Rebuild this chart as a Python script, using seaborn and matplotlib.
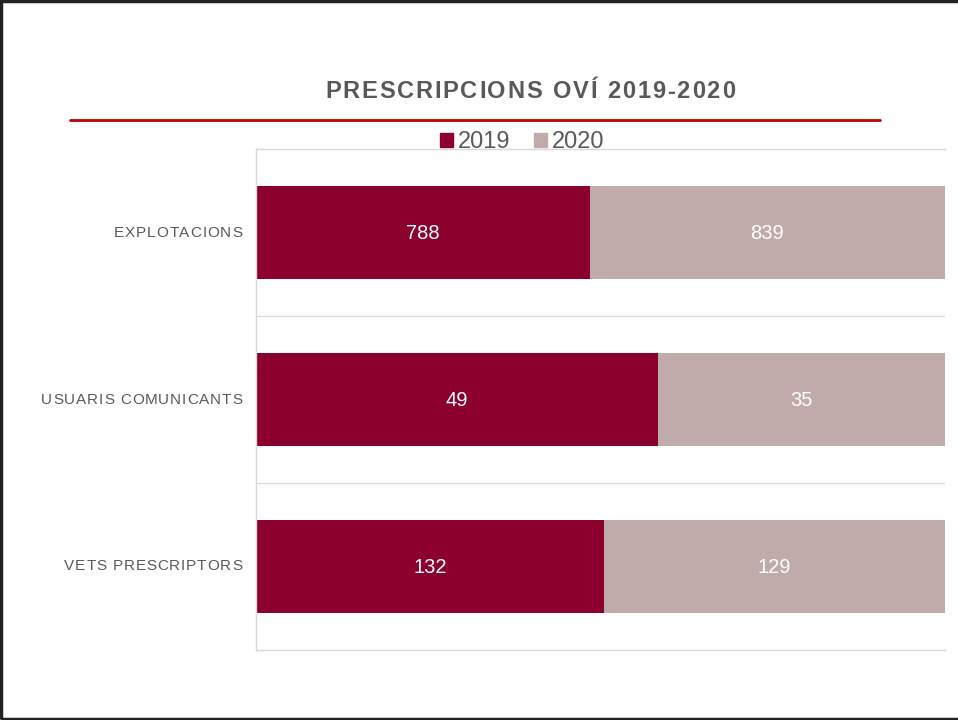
import seaborn as sns
import pandas as pd
import matplotlib.pyplot as plt
from matplotlib.patches import Patch, Rectangle
from matplotlib.lines import Line2D
from matplotlib.font_manager import FontProperties

# dades
categories = ['EXPLOTACIONS', 'USUARIS COMUNICANTS', 'VETS PRESCRIPTORS']
values_2019 = [788, 49, 132]
values_2020 = [839, 35, 129]
years = ['2019', '2020']

col_2019 = '#8C002D'
col_2020 = '#C1ABAA'
gray_txt = '#595959'

df = pd.DataFrame({'cat': categories, 'y2019': values_2019, 'y2020': values_2020})
df['total'] = df['y2019'] + df['y2020']
df['share2019'] = df['y2019'] / df['total']
df['cum2020'] = (df['y2019'] + df['y2020']) / df['total']

sns.set_theme(style='white')
plt.rcParams['font.family'] = ['Liberation Sans', 'DejaVu Sans']

W, H = 958, 720
fig = plt.figure(figsize=(W/100, H/100), dpi=100)
ax = fig.add_axes([256/W, 70/H, 689/W, 501/H])
renderer = fig.canvas.get_renderer()


def spaced_text(s, x_px, y_px, spacing, align='center', **kw):
    # text amb espaiat entre lletres, dibuixat lletra a lletra (px de la figura)
    fp = FontProperties(family='Liberation Sans', size=kw.get('fontsize', 12),
                        weight=kw.get('fontweight', 'normal'))
    widths = [renderer.get_text_width_height_descent(c, fp, ismath=False)[0]
              for c in s]
    total = sum(widths) + spacing * (len(s) - 1)
    if align == 'center':
        x = x_px - total / 2
    else:
        x = x_px - total
    for c, w in zip(s, widths):
        fig.text(x / W, 1 - y_px / H, c, ha='left', va='center', **kw)
        x += w + spacing


# barres apilades al 100%
sns.barplot(data=df, x='cum2020', y='cat', color=col_2020, width=0.56,
            saturation=1, ax=ax, orient='h', linewidth=0)
sns.barplot(data=df, x='share2019', y='cat', color=col_2019, width=0.56,
            saturation=1, ax=ax, orient='h', linewidth=0)

# etiquetes dins les barres
for i, row in df.iterrows():
    ax.text(row['share2019'] / 2, i + 0.006, str(row['y2019']), color='white',
            ha='center', va='center', fontsize=14.5)
    ax.text((row['share2019'] + row['cum2020']) / 2, i + 0.006, str(row['y2020']),
            color='white', ha='center', va='center', fontsize=14.5)

ax.set_xlim(0, 1)
ax.set_ylim(2.5, -0.5)
ax.set_xticks([])
ax.set_yticks([])
ax.set_xlabel('')
ax.set_ylabel('')
for b in [0.5, 1.5]:
    ax.axhline(b, color='#D9D9D9', lw=1, zorder=0)
for s in ['top', 'bottom', 'left']:
    ax.spines[s].set_color('#D9D9D9')
    ax.spines[s].set_linewidth(1)
ax.spines['right'].set_visible(False)

# etiquetes de categoria
for i, cat in enumerate(categories):
    y_px = H - ax.transData.transform((0, i))[1]
    spaced_text(cat, 242, y_px, 0.85, align='right', fontsize=11, color=gray_txt)

# titol i linia vermella
spaced_text('PRESCRIPCIONS OVÍ 2019-2020', 530, 92, 1.8, fontsize=17,
            fontweight='bold', color=gray_txt)
fig.add_artist(Line2D([70/W, 880/W], [1 - 120/H, 1 - 120/H],
                      color='#C00000', lw=2))

# llegenda
handles = [Patch(color=col_2019), Patch(color=col_2020)]
fig.legend(handles, years, loc='center', bbox_to_anchor=(522/W, 1 - 142/H),
           ncol=2, frameon=False, fontsize=17, handlelength=0.55,
           handleheight=0.55, handletextpad=0.2, columnspacing=1.0,
           labelcolor=gray_txt)

# vora de la diapositiva
fig.add_artist(Rectangle((0.001, 0.002), 1.2, 0.996, transform=fig.transFigure,
                         fill=False, edgecolor='#222222', lw=2.5))

plt.savefig('out.png', dpi=100)
